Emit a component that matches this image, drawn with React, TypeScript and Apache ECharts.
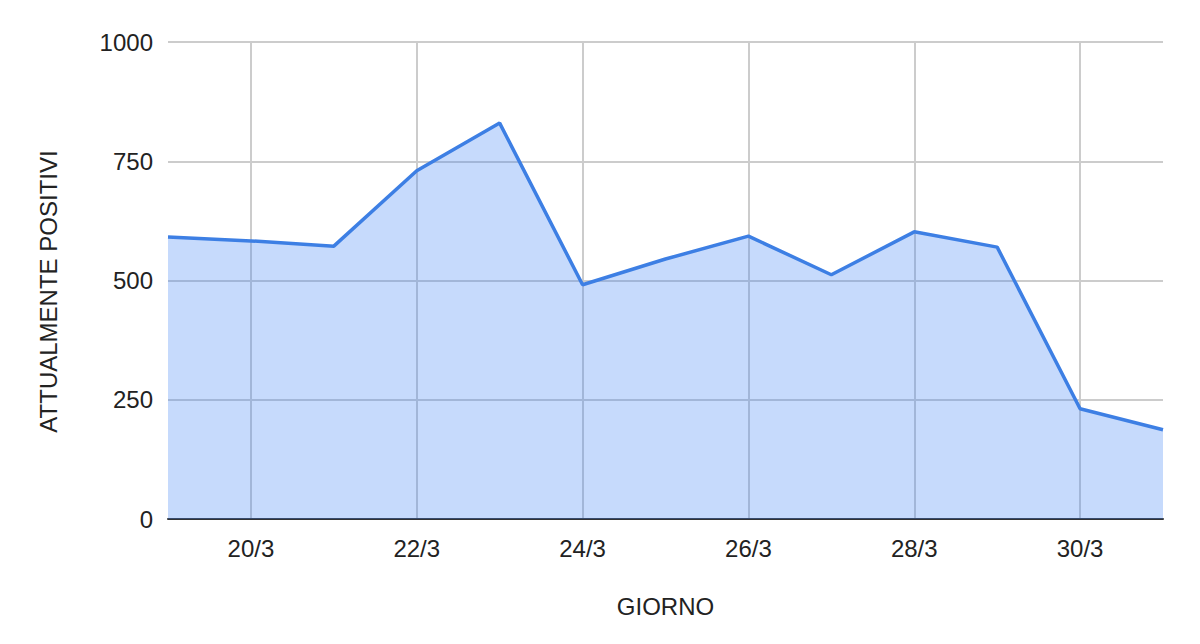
import React, { useEffect, useRef } from "react";
import * as echarts from "echarts";

const days = ["19/3", "20/3", "21/3", "22/3", "23/3", "24/3", "25/3", "26/3", "27/3", "28/3", "29/3", "30/3", "31/3"];
const positivi = [591, 583, 572, 730, 830, 491, 545, 593, 512, 602, 570, 231, 187];
const yTicks = [0, 250, 500, 750, 1000];

const showOdd = (idx: number) => idx % 2 === 1;

export default function App() {
  const ref = useRef<HTMLDivElement>(null);
  useEffect(() => {
    if (!ref.current) return;
    const chart = echarts.init(ref.current, undefined, { renderer: "svg" });
    chart.setOption({
      animation: false,
      textStyle: { fontFamily: "Liberation Sans, Arial, sans-serif" },
      grid: { left: 168, right: 37, top: 42, bottom: 125, containLabel: false },
      xAxis: {
        type: "category",
        data: days,
        boundaryGap: false,
        name: "GIORNO",
        nameLocation: "middle",
        nameGap: 75,
        nameTextStyle: { fontSize: 24, color: "#222" },
        axisLine: { show: true, lineStyle: { color: "#333", width: 2 } },
        axisTick: { show: false },
        axisLabel: { interval: showOdd, fontSize: 24, color: "#222", margin: 17 },
        splitLine: { show: true, interval: showOdd, lineStyle: { color: "#cccccc", width: 2 } },
      },
      yAxis: {
        type: "value",
        min: yTicks[0],
        max: yTicks[yTicks.length - 1],
        interval: 250,
        name: "ATTUALMENTE POSITIVI",
        nameLocation: "middle",
        nameGap: 108,
        nameTextStyle: { fontSize: 24, color: "#222", padding: [0, 22, 0, 0] },
        axisLine: { show: false },
        axisTick: { show: false },
        axisLabel: { fontSize: 24, color: "#222", margin: 15, formatter: (v: number) => String(v) },
        splitLine: { show: true, lineStyle: { color: "#cccccc", width: 2 } },
      },
      series: [
        {
          type: "line",
          data: positivi,
          showSymbol: false,
          symbol: "none",
          lineStyle: { color: "#3d7fe4", width: 3.5 },
          areaStyle: { color: "#4285f4", opacity: 0.3 },
        },
      ],
    });
    return () => chart.dispose();
  }, []);
  return <div ref={ref} style={{ width: 1200, height: 644, position: "absolute", left: 0, top: 0 }} />;
}
